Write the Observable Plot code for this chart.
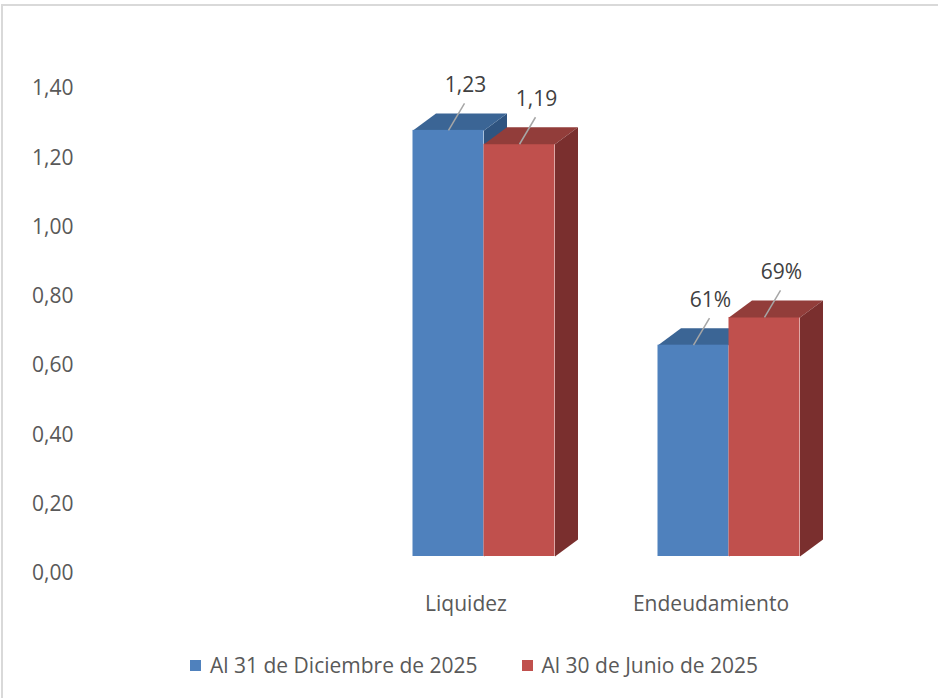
<!DOCTYPE html>
<html><head><meta charset="utf-8">
<script src="https://cdn.jsdelivr.net/npm/d3@7"></script>
<script src="https://cdn.jsdelivr.net/npm/@observablehq/plot@0.6"></script>
<style>
html,body{margin:0;padding:0;background:#fff;}
body{width:938px;height:698px;position:relative;overflow:hidden;font-family:"Open Sans",sans-serif;}
#frame{position:absolute;left:1px;top:4px;right:-10px;bottom:-10px;border-top:2px solid #d9d9d9;border-left:2px solid #d9d9d9;}
#chart{position:absolute;left:0;top:0;}
#legend{position:absolute;top:651px;left:190px;display:flex;align-items:center;font-size:21px;color:#595959;white-space:nowrap;line-height:28px;}
.sw{display:inline-block;width:11px;height:11px;margin-right:9px;}
.item{display:flex;align-items:center;margin-right:44px;}
</style></head><body>
<div id="frame"></div><div id="chart"></div><div id="legend"></div>
<script>
// ---- data ----
const categories = ["Liquidez", "Endeudamiento"];
const seriesNames = ["Al 31 de Diciembre de 2025", "Al 30 de Junio de 2025"];
const diciembre = [1.23, 0.61];
const junio = [1.19, 0.69];
const yTicks = [0, 0.2, 0.4, 0.6, 0.8, 1.0, 1.2, 1.4];
const labelKinds = ["decimal", "percent"];

// ---- styling ----
const frontColors = ["#4F81BD", "#C0504D"];
const topColors = ["#3B6595", "#923D3A"];
const sideColors = ["#2F5480", "#7A2F2E"];
const textColor = "#595959";
const FS = 21;

// ---- layout ----
const W = 938, H = 640, mL = 116, mR = 87, mT = 71, mB = 84;
const yMax = 1.4;
const pxX = (W - mL - mR) / 3;
const pxY = (H - mT - mB) / yMax;
const barW = 71 / pxX, dX = 23 / pxX, dY = 17 / pxY;

const series = [diciembre, junio];
const bars = [];
categories.forEach((cat, c) => {
  series.forEach((vals, s) => {
    const i = c + 1;
    const x1 = s === 0 ? i - barW : i;
    const x2 = s === 0 ? i : i + barW;
    const v = vals[c];
    const label = labelKinds[c] === "percent"
      ? Math.round(v * 100) + "%"
      : v.toFixed(2).replace(".", ",");
    bars.push({cat, s, x1, x2, xc: (x1 + x2) / 2, v, label});
  });
});
const topPoly = s => bars.filter(b => b.s === s).flatMap((b, k) => [
  {id: k, x: b.x1, y: b.v}, {id: k, x: b.x2, y: b.v},
  {id: k, x: b.x2 + dX, y: b.v + dY}, {id: k, x: b.x1 + dX, y: b.v + dY}]);
const sidePoly = s => bars.filter(b => b.s === s).flatMap((b, k) => [
  {id: k, x: b.x2, y: 0}, {id: k, x: b.x2, y: b.v},
  {id: k, x: b.x2 + dX, y: b.v + dY}, {id: k, x: b.x2 + dX, y: dY}]);

const marks = [];
[0, 1].forEach(s => {
  const front = Plot.rect(bars.filter(b => b.s === s), {x1: "x1", x2: "x2", y1: 0, y2: "v", fill: frontColors[s], inset: 0});
  const top = Plot.line(topPoly(s), {x: "x", y: "y", z: "id", fill: topColors[s], stroke: "none"});
  const side = Plot.line(sidePoly(s), {x: "x", y: "y", z: "id", fill: sideColors[s], stroke: "none"});
  if (s === 0) marks.push(side, top, front); else marks.push(front, top, side);
});
marks.push(
  Plot.link(bars, {x1: "xc", y1: "v", x2: b => b.xc + 16 / pxX, y2: b => b.v + 27 / pxY, stroke: "#A6A6A6", strokeWidth: 1.5}),
  Plot.text(bars, {x: "xc", y: "v", text: "label", dx: 17, dy: -45, fill: "#404040", fontSize: FS}),
  Plot.axisY(yTicks, {tickSize: 0, tickPadding: mL - 73, dy: 17, tickFormat: d => d.toFixed(2).replace(".", ","), label: null, fontSize: FS}),
  Plot.axisX([1, 2], {tickSize: 0, tickPadding: 40, dx: -18, tickFormat: i => categories[i - 1], label: null, fontSize: FS})
);

const chart = Plot.plot({
  width: W, height: H,
  marginLeft: mL, marginRight: mR, marginTop: mT, marginBottom: mB,
  x: {type: "linear", domain: [-0.5, 2.5]},
  y: {domain: [0, yMax]},
  style: {fontFamily: "'Open Sans', sans-serif", fontSize: FS + "px", color: textColor, background: "transparent"},
  marks
});
document.getElementById("chart").appendChild(chart);

const legend = document.getElementById("legend");
seriesNames.forEach((name, s) => {
  const item = document.createElement("div");
  item.className = "item";
  const sw = document.createElement("span");
  sw.className = "sw";
  sw.style.background = frontColors[s];
  item.appendChild(sw);
  item.appendChild(document.createTextNode(name));
  legend.appendChild(item);
});
</script>
</body></html>
